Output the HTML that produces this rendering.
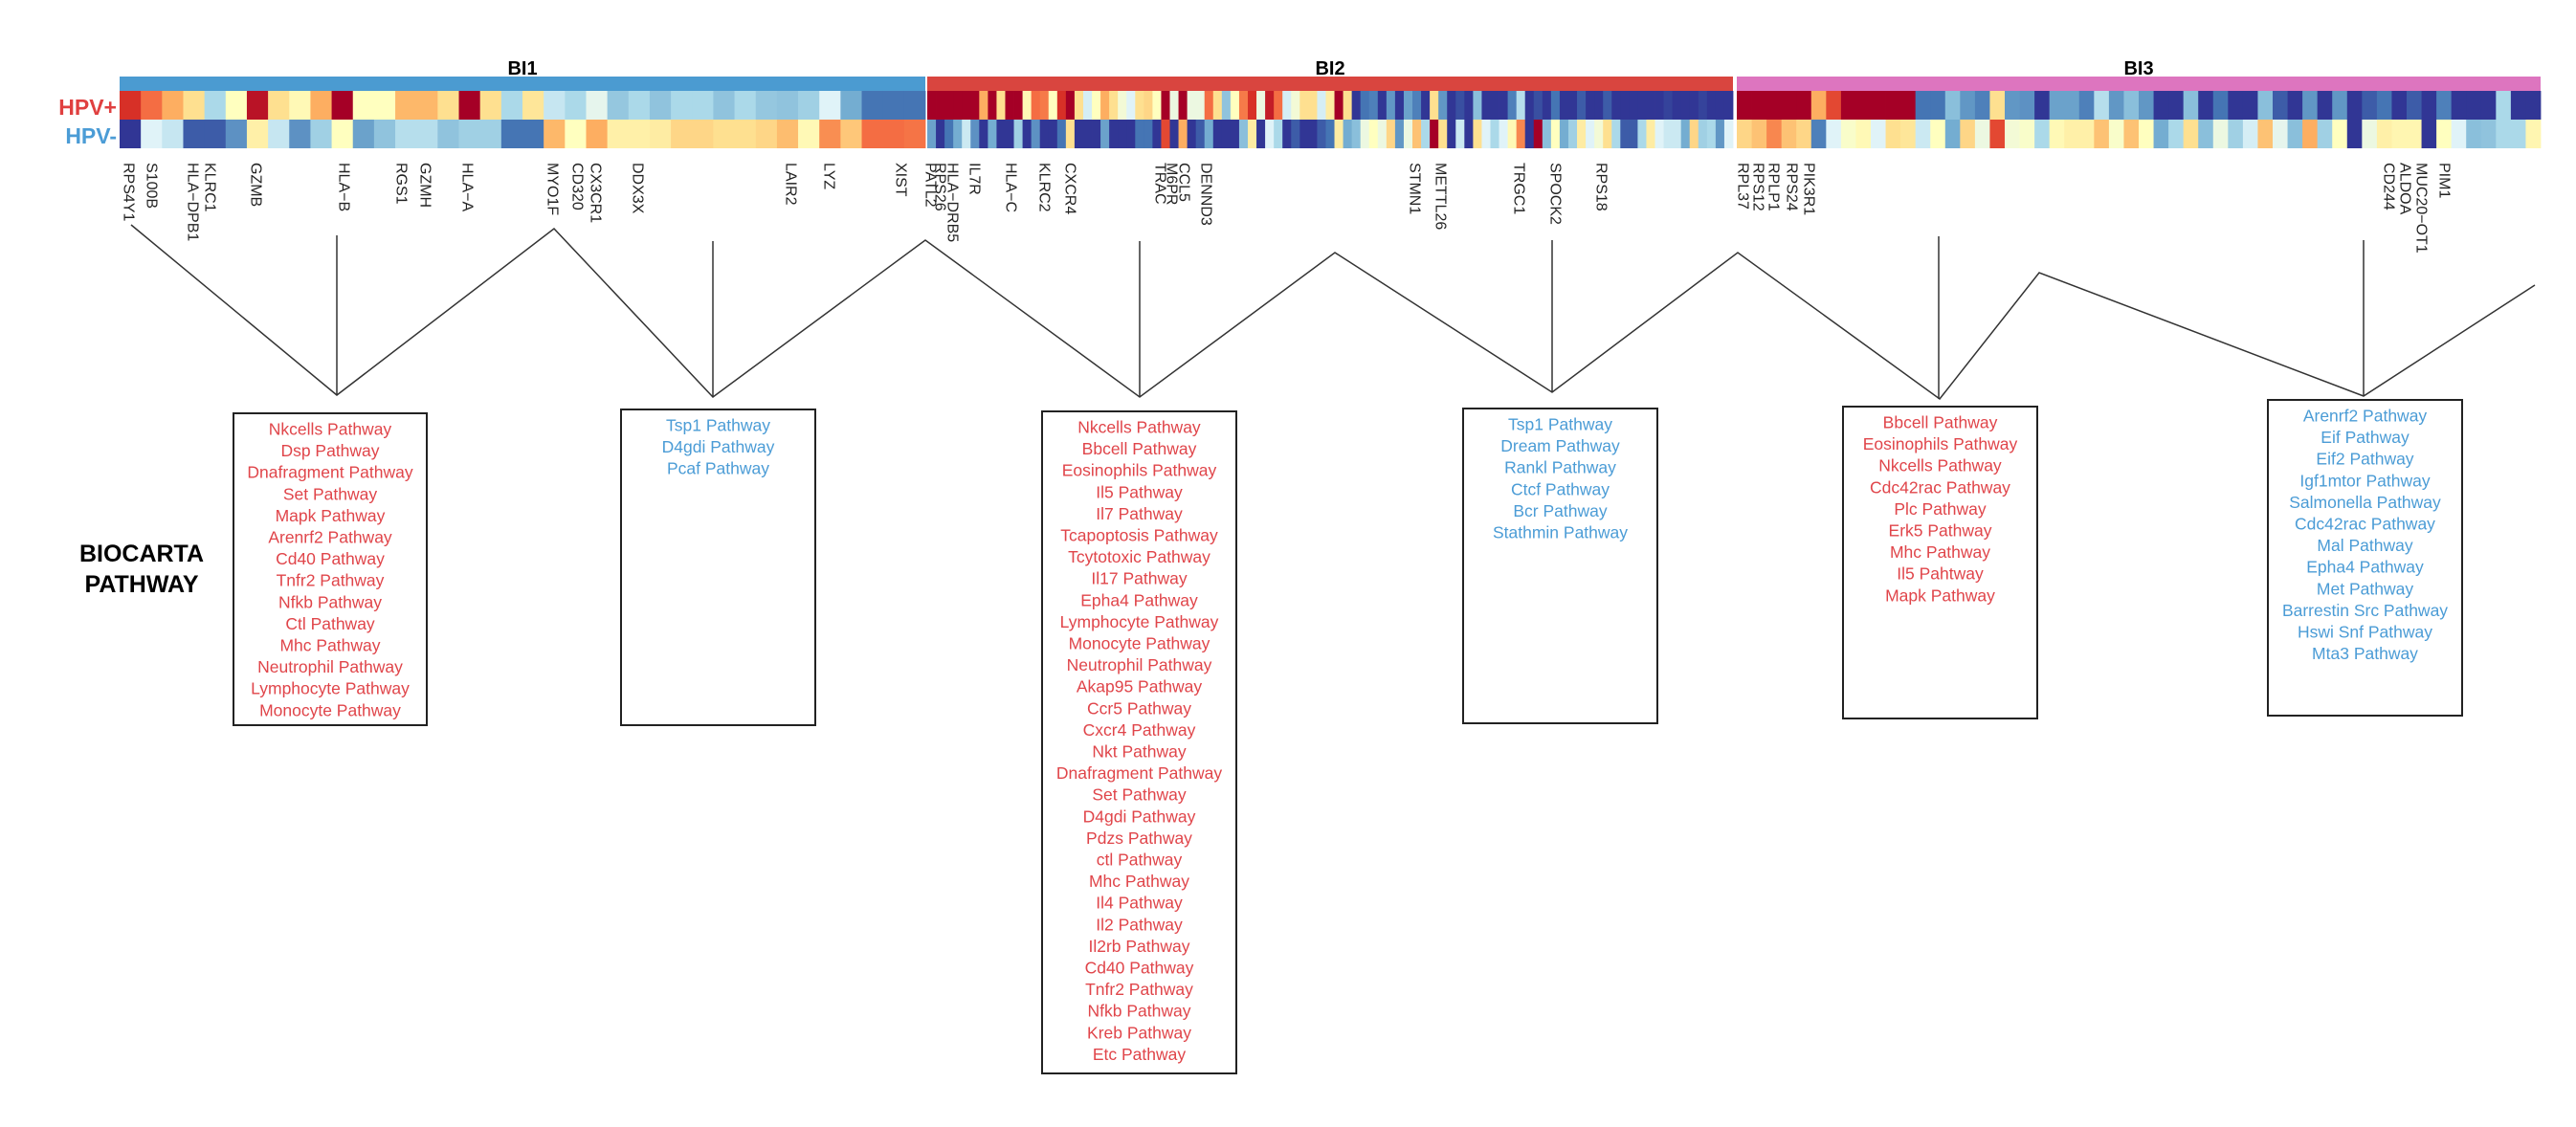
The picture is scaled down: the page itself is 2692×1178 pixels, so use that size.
<!DOCTYPE html>
<html><head><meta charset="utf-8"><title>BIOCARTA Pathway heatmap</title>
<style>
html,body{margin:0;padding:0;background:#fff;}
svg{display:block;font-family:"Liberation Sans",Arial,sans-serif;}
</style></head>
<body>
<svg id="chart" width="2692" height="1178" viewBox="0 0 2692 1178" xmlns="http://www.w3.org/2000/svg">
<rect x="0" y="0" width="2692" height="1178" fill="#fff"/>
<g id="heat"></g>
<g id="genes"></g>
<g id="links"></g>
<g id="boxes"></g>
<text x="122" y="112" text-anchor="end" dominant-baseline="central" font-size="23" font-weight="bold" fill="#e04040">HPV+</text>
<text x="122" y="142" text-anchor="end" dominant-baseline="central" font-size="23" font-weight="bold" fill="#4b9cd6">HPV-</text>
<text x="148" y="579" text-anchor="middle" dominant-baseline="central" font-size="25" font-weight="bold" fill="#000">BIOCARTA</text>
<text x="148" y="611" text-anchor="middle" dominant-baseline="central" font-size="25" font-weight="bold" fill="#000">PATHWAY</text>
</svg>
<script>
// ---- data ----
var groupNames = ["BI1","BI2","BI3"];
var groupColors = ["#4b9bd1","#d9453f","#dd75bf"];
var bi1Pos = [2.0,1.5,1.0,0.5,-1.0,0,2.3,0.5,0.1,1.0,2.5,0,0,0.9,0.9,0.5,2.5,0.5,-1.0,0.4,-0.75,-1.0,-0.4,-1.2,-1.0,-1.25,-1.0,-1.0,-1.25,-1.0,-1.2,-1.25,-1.1,-0.5,-1.5,-2.0,-2.0,-2.0];
var bi1Neg = [-2.5,-0.5,-0.75,-2.2,-2.2,-1.75,0.25,-0.75,-1.75,-1.1,0,-1.6,-1.25,-0.9,-0.9,-1.25,-1.1,-1.1,-2.0,-2.0,0.9,0,1.0,0.25,0.25,0.3,0.6,0.6,0.5,0.5,0.6,0.85,0.1,1.25,0.75,1.5,1.5,1.45];
var bi2Pos = [2.5,2.5,2.5,2.5,2.5,2.5,1.0,2.5,0.5,2.5,2.5,0.1,1.5,1.4,0,2.0,2.5,0.5,-0.6,0,1.0,0.5,-0.2,-0.5,0.5,0.6,0,2.5,-0.3,2.5,-0.3,-0.3,1.5,0.5,-1.25,0,1.4,2.0,-0.3,2.2,1.5,-0.6,-0.2,0.5,0.5,-0.6,0.3,
  2.5,0.5,-2.5,-2,-1.9,-2.5,-1.7,-2.5,-1.6,-1.9,-2.5,0.5,-1.7,-2.5,-2.3,-2.5,-1.3,-2.5,-2.5,-2.5,-1.9,-0.9,-2.5,-2.3,-2.5,-2,-2.5,-2.5,-2.2,-2.5,-2.5,-2.2,-2.5,-2.5,-2.5,-2.5,-2.5,-2.5,-2.4,-2.5,-2.5,-2.5,-2.4,-2.5,-2.5,-2.5];
var bi2Neg = [-1.6,-2.5,-2,-1.5,-0.7,-1.75,-2.5,-1.5,-2.5,-2.5,-1.1,-2.5,-1.75,-2.5,-2.5,-2,0.5,-2.5,-2.5,-2.5,-1.6,-2.5,-2.5,-2.5,-2,-2,-2.5,1.8,-2.5,1.0,-2.5,-2.2,-1.5,-2.5,-2.5,-2.5,-1.3,0.3,-2.5,-0.5,-1.0,-2.5,-2.2,-2.5,-2.5,-2.2,-2.0,
  0.3,-1.5,-1.3,-0.3,0,-0.3,0.6,-1.7,-0.3,0.8,-1.0,2.5,0.5,-2.5,-0.7,-2.5,0.5,-0.5,-1,-0.5,0.1,1.3,-2.5,2.5,-1.3,0,-1.5,-1.1,0.3,-0.5,-0.2,0.5,-1,-2.2,-2.2,-1.0,0.3,-0.5,-0.7,-0.7,-1.5,0.6,-1.1,-1,-1.7,-0.5];
var bi3Pos = [2.5,2.5,2.5,2.5,2.5,1.0,1.8,2.5,2.5,2.5,2.5,2.5,
  -2,-2,-1.3,-1.7,-1.9,0.5,-1.7,-1.75,-2.5,-1.6,-1.6,-1.9,-0.9,-1.7,-1.3,-1.7,-2.5,-2.5,-1.3,-2.5,-2,-2.5,-2.5,-1.3,-2.2,-2.5,-1.7,-2.5,-1.7,-2.5,-2.2,-2,-2.5,-2.2,-2.5,-1.9,-2.5,-2.5,-2.5,-1.0,-2.5,-2.5];
var bi3Neg = [0.6,0.8,1.3,0.8,0.6,-1.9,-0.5,-0.1,0.1,-0.5,0.5,0.4,-0.7,0,-1.5,0.6,-0.3,1.8,-0.2,-0.1,-1,0.1,0.25,0.25,0.8,-0.1,0.8,0,-1.5,-1,0.5,-1.3,-0.3,-1.1,-0.6,0.8,-0.4,-1.3,1.0,-1.1,0,-2.5,-0.3,0.25,0.15,0.15,-2.5,0,-0.5,-1.3,-1.25,-1.0,-1.0,0.15];
var geneLabels = ["RPS4Y1","S100B","HLA\u2212DPB1","KLRC1","GZMB","HLA\u2212B","RGS1","GZMH","HLA\u2212A","MYO1F","CD320","CX3CR1","DDX3X","LAIR2","LYZ","XIST",
 "PATL2","RPS26","HLA\u2212DRB5","IL7R","HLA\u2212C","KLRC2","CXCR4","TRAC","M6PR","CCL5","DENND3","STMN1","METTL26","TRGC1","SPOCK2","RPS18",
 "RPL37","RPS12","RPLP1","RPS24","PIK3R1","CD244","ALDOA","MUC20\u2212OT1","PIM1"];
var geneX = [134,158,201,219,267,359,419,444,488,577,603,622,666,826,866,941,
 972,982,995,1018,1056,1091,1118,1212,1224,1237,1260,1478,1505,1587,1625,1673,
 1821,1837,1853,1872,1890,2496,2513,2530,2554];
var pathwaysB1 = ["Nkcells Pathway","Dsp Pathway","Dnafragment Pathway","Set Pathway","Mapk Pathway","Arenrf2 Pathway","Cd40 Pathway","Tnfr2 Pathway","Nfkb Pathway","Ctl Pathway","Mhc Pathway","Neutrophil Pathway","Lymphocyte Pathway","Monocyte Pathway"];
var pathwaysB2 = ["Tsp1 Pathway","D4gdi Pathway","Pcaf Pathway"];
var pathwaysB3 = ["Nkcells Pathway","Bbcell Pathway","Eosinophils Pathway","Il5 Pathway","Il7 Pathway","Tcapoptosis Pathway","Tcytotoxic Pathway","Il17 Pathway","Epha4 Pathway","Lymphocyte Pathway","Monocyte Pathway","Neutrophil Pathway","Akap95 Pathway","Ccr5 Pathway","Cxcr4 Pathway","Nkt Pathway","Dnafragment Pathway","Set Pathway","D4gdi Pathway","Pdzs Pathway","ctl Pathway","Mhc Pathway","Il4 Pathway","Il2 Pathway","Il2rb Pathway","Cd40 Pathway","Tnfr2 Pathway","Nfkb Pathway","Kreb Pathway","Etc Pathway"];
var pathwaysB4 = ["Tsp1 Pathway","Dream Pathway","Rankl Pathway","Ctcf Pathway","Bcr Pathway","Stathmin Pathway"];
var pathwaysB5 = ["Bbcell Pathway","Eosinophils Pathway","Nkcells Pathway","Cdc42rac Pathway","Plc Pathway","Erk5 Pathway","Mhc Pathway","Il5 Pahtway","Mapk Pathway"];
var pathwaysB6 = ["Arenrf2 Pathway","Eif Pathway","Eif2 Pathway","Igf1mtor Pathway","Salmonella Pathway","Cdc42rac Pathway","Mal Pathway","Epha4 Pathway","Met Pathway","Barrestin Src Pathway","Hswi Snf Pathway","Mta3 Pathway"];

// ---- layout ----
var NS="http://www.w3.org/2000/svg";
function mk(tag, attrs, parent){var e=document.createElementNS(NS,tag);for(var k in attrs)e.setAttribute(k,attrs[k]);parent.appendChild(e);return e;}
var stops=["#a50026","#d73027","#f46d43","#fdae61","#fee090","#ffffbf","#e0f3f8","#abd9e9","#74add1","#4575b4","#313695"];
function hex2rgb(h){return [parseInt(h.substr(1,2),16),parseInt(h.substr(3,2),16),parseInt(h.substr(5,2),16)];}
function colorScale(z){var t=(2.5-Math.max(-2.5,Math.min(2.5,z)))/0.5;var i=Math.min(9,Math.floor(t));var f=t-i;var a=hex2rgb(stops[i]),b=hex2rgb(stops[i+1]);
  return "rgb("+a.map(function(v,j){return Math.round(v+(b[j]-v)*f);}).join(",")+")";}
var groupX=[[125,967],[969,1811],[1815,2655]];
var barY=80, barH=15, rowY=[95,125], rowH=30;
var groupData=[[bi1Pos,bi1Neg],[bi2Pos,bi2Neg],[bi3Pos,bi3Neg]];
var heat=document.getElementById('heat');
groupData.forEach(function(gd,g){
  var x0=groupX[g][0], x1=groupX[g][1];
  var bar=mk('rect',{x:x0,y:barY,width:x1-x0,height:barH,fill:groupColors[g]},heat);
  
  
  var t=mk('text',{x:(x0+x1)/2,y:72,'text-anchor':'middle','dominant-baseline':'central','font-size':20,'font-weight':'bold',fill:'#000'},heat);
  t.textContent=groupNames[g];
  
  
  gd.forEach(function(vals,r){
    var n=vals.length, w=(x1-x0)/n;
    vals.forEach(function(v,i){
      var c=mk('rect',{x:(x0+i*w).toFixed(2),y:rowY[r],width:(w+0.4).toFixed(2),height:rowH,fill:colorScale(v)},heat);
      
      
    });
  });
});
var genes=document.getElementById('genes');
geneLabels.forEach(function(lab,i){
  var t=mk('text',{x:geneX[i],y:170,transform:'rotate(90 '+geneX[i]+' 170)','dominant-baseline':'central','font-size':16,fill:'#222'},genes);
  t.textContent=lab;
  
  
});
var links=document.getElementById('links');
var zig=[[137,235],[352,413],[579,239],[745,415],[967,251],[1191,415],[1395,264],[1622,410],[1816,264],[2027,417],[2131,285],[2470,414],[2649,298]];
var pl=mk('polyline',{points:zig.map(function(p){return p.join(',');}).join(' '),fill:'none',stroke:'#333','stroke-width':1.5},links);


var verts=[[352,246,413],[745,252,415],[1191,252,415],[1622,251,410],[2026,247,417],[2470,251,414]];
verts.forEach(function(v){
  var l=mk('line',{x1:v[0],y1:v[1],x2:v[0],y2:v[2],stroke:'#333','stroke-width':1.5},links);
  
  
});
var boxes=document.getElementById('boxes');
var boxDefs=[[244,432,446,758,pathwaysB1,'#e0454a'],[649,428,852,758,pathwaysB2,'#4b9cd6'],[1089,430,1292,1122,pathwaysB3,'#e0454a'],
 [1529,427,1732,756,pathwaysB4,'#4b9cd6'],[1926,425,2129,751,pathwaysB5,'#e0454a'],[2370,418,2573,748,pathwaysB6,'#4b9cd6']];
boxDefs.forEach(function(b,k){
  var g=mk('g',{},boxes);
  
  
  mk('rect',{x:b[0],y:b[1],width:b[2]-b[0],height:b[3]-b[1],fill:'#fff',stroke:'#222','stroke-width':2},g);
  b[4].forEach(function(p,i){
    var t=mk('text',{x:(b[0]+b[2])/2,y:b[1]+16.5+i*22.6,'text-anchor':'middle','dominant-baseline':'central','font-size':17.5,fill:b[5]},g);
    t.textContent=p;
    
    
  });
});
</script>
</body></html>
